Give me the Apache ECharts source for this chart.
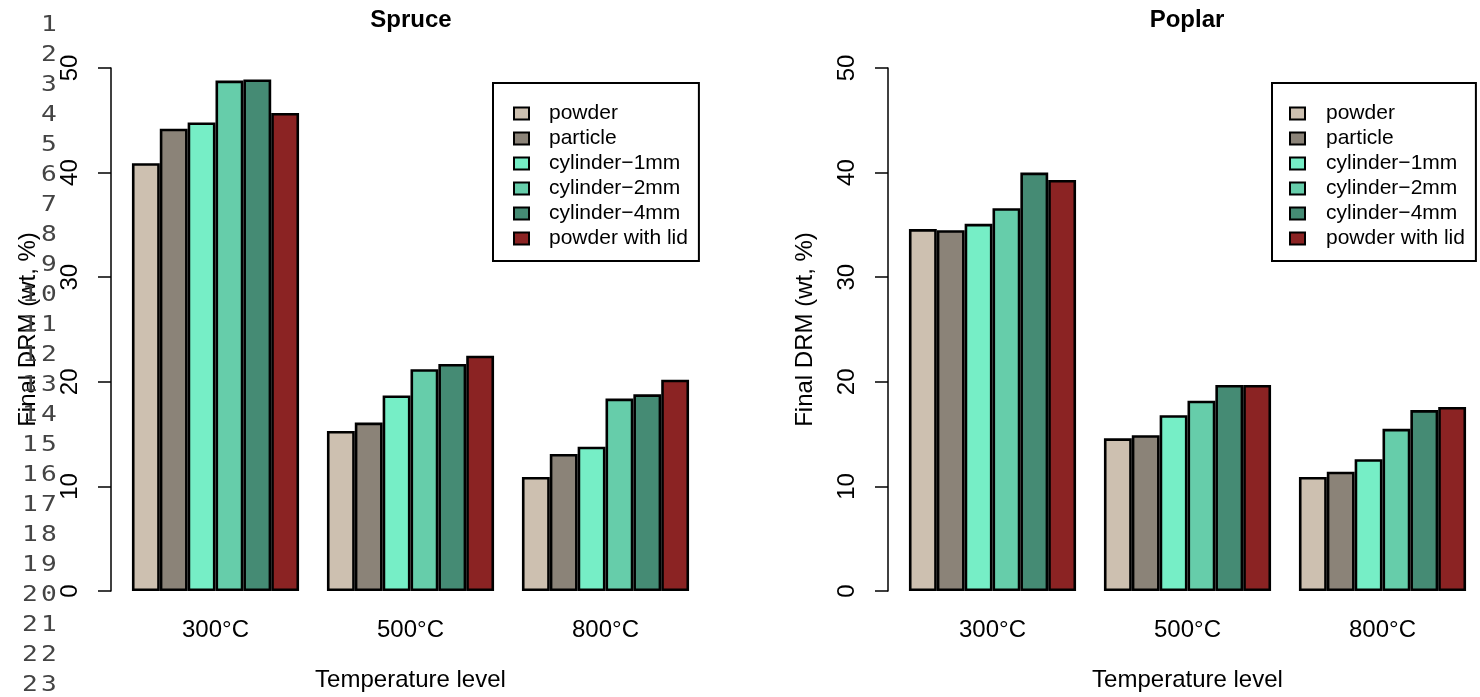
<!DOCTYPE html>
<html>
<head>
<meta charset="utf-8">
<script src="https://cdn.jsdelivr.net/npm/echarts@6/dist/echarts.min.js"></script>
<style>
html,body{margin:0;padding:0;background:#fff;}
#chart{width:1480px;height:697px;}
</style>
</head>
<body>
<div id="chart"></div>
<script>
// ---- data ----
const categories = ['300°C', '500°C', '800°C'];
const seriesNames = ['powder', 'particle', 'cylinder\u22121mm', 'cylinder\u22122mm', 'cylinder\u22124mm', 'powder with lid'];
const panelTitles = ['Spruce', 'Poplar'];
const xAxisTitle = 'Temperature level';
const yAxisTitle = 'Final DRM (wt, %)';
const lineNumbers = ['1','2','3','4','5','6','7','8','9','10','11','12','13','14','15','16','17','18','19','20','21','22','23'];

// Spruce
const sprucePowder    = [40.9, 15.3, 10.9];
const spruceParticle  = [44.2, 16.1, 13.1];
const spruceCyl1      = [44.8, 18.7, 13.8];
const spruceCyl2      = [48.8, 21.2, 18.4];
const spruceCyl4      = [48.9, 21.7, 18.8];
const sprucePowderLid = [45.7, 22.5, 20.2];
// Poplar
const poplarPowder    = [34.6, 14.6, 10.9];
const poplarParticle  = [34.5, 14.9, 11.4];
const poplarCyl1      = [35.1, 16.8, 12.6];
const poplarCyl2      = [36.6, 18.2, 15.5];
const poplarCyl4      = [40.0, 19.7, 17.3];
const poplarPowderLid = [39.3, 19.7, 17.6];

// ---- styles ----
const colors = ['#CDC0B0', '#8B8378', '#76EEC6', '#66CDAA', '#458B74', '#8B2323'];
const FONT = 'Liberation Sans, Arial, sans-serif';

const spruceData = [sprucePowder, spruceParticle, spruceCyl1, spruceCyl2, spruceCyl4, sprucePowderLid];
const poplarData = [poplarPowder, poplarParticle, poplarCyl1, poplarCyl2, poplarCyl4, poplarPowderLid];

const grids = [
  {left: 118, top: 68, width: 585, height: 527},
  {left: 895, top: 68, width: 585, height: 527}
];

function makeXAxis(gi) {
  return {
    type: 'category', gridIndex: gi, data: categories,
    axisLine: {show: false}, axisTick: {show: false},
    axisLabel: {color: '#000', fontSize: 24, fontFamily: FONT, margin: 27},
    name: xAxisTitle, nameLocation: 'middle', nameGap: 77,
    nameTextStyle: {color: '#000', fontSize: 24, fontFamily: FONT}
  };
}
function makeYAxis(gi) {
  return {
    type: 'value', gridIndex: gi, min: 0, max: 50, interval: 10,
    offset: 7,
    axisLine: {show: true, lineStyle: {color: '#000', width: 1.5}},
    axisTick: {show: true, length: 13, lineStyle: {color: '#000', width: 1.5}},
    axisLabel: {color: '#000', fontSize: 24, fontFamily: FONT, rotate: 90, margin: 29},
    splitLine: {show: false},
    name: yAxisTitle, nameLocation: 'middle', nameGap: 71, nameRotate: 90,
    nameTextStyle: {color: '#000', fontSize: 24, fontFamily: FONT}
  };
}

const series = [];
[spruceData, poplarData].forEach(function (dataSet, gi) {
  dataSet.forEach(function (vals, si) {
    series.push({
      type: 'bar', name: seriesNames[si], xAxisIndex: gi, yAxisIndex: gi,
      data: vals, barGap: '0%', barCategoryGap: '14.29%',
      itemStyle: {color: colors[si], borderColor: '#000', borderWidth: 2.6},
      emphasis: {disabled: true}, animation: false
    });
  });
});

function makeLegend(left, padLeft, textPadLeft) {
  return {
    orient: 'vertical', left: left, top: 83,
    data: seriesNames,
    icon: 'rect', itemWidth: 15, itemHeight: 12, itemGap: 4,
    padding: [20, 11, 12, padLeft],
    borderColor: '#000', borderWidth: 2, backgroundColor: '#fff',
    selectedMode: false,
    itemStyle: {borderColor: '#000', borderWidth: 2},
    textStyle: {color: '#000', fontSize: 21, fontFamily: FONT, lineHeight: 21, padding: [0, 0, 0, textPadLeft]}
  };
}

// line numbers in the left margin: each glyph placed in a wide monospace cell
const graphics = [];
lineNumbers.forEach(function (t, i) {
  const chars = t.split('');
  chars.forEach(function (ch, k) {
    const fromRight = chars.length - 1 - k;
    graphics.push({
      type: 'text', x: 49 - fromRight * 19, y: 26 + i * 30, scaleX: 1.25,
      style: {text: ch, textAlign: 'center', textVerticalAlign: 'middle',
              font: '21px "DejaVu Sans Mono", monospace', fill: '#444'},
      z: 100
    });
  });
});

const chart = echarts.init(document.getElementById('chart'), null, {renderer: 'canvas'});
chart.setOption({
  animation: false,
  backgroundColor: '#fff',
  title: [
    {text: panelTitles[0], left: 411, top: 8, padding: 0, textAlign: 'center',
     textStyle: {fontSize: 24, fontWeight: 'bold', color: '#000', fontFamily: FONT}},
    {text: panelTitles[1], left: 1187, top: 8, padding: 0, textAlign: 'center',
     textStyle: {fontSize: 24, fontWeight: 'bold', color: '#000', fontFamily: FONT}}
  ],
  grid: grids,
  xAxis: [makeXAxis(0), makeXAxis(1)],
  yAxis: [makeYAxis(0), makeYAxis(1)],
  legend: [makeLegend(493, 20, 15), makeLegend(1272, 17, 16)],
  series: series,
  graphic: graphics
});
</script>
</body>
</html>
